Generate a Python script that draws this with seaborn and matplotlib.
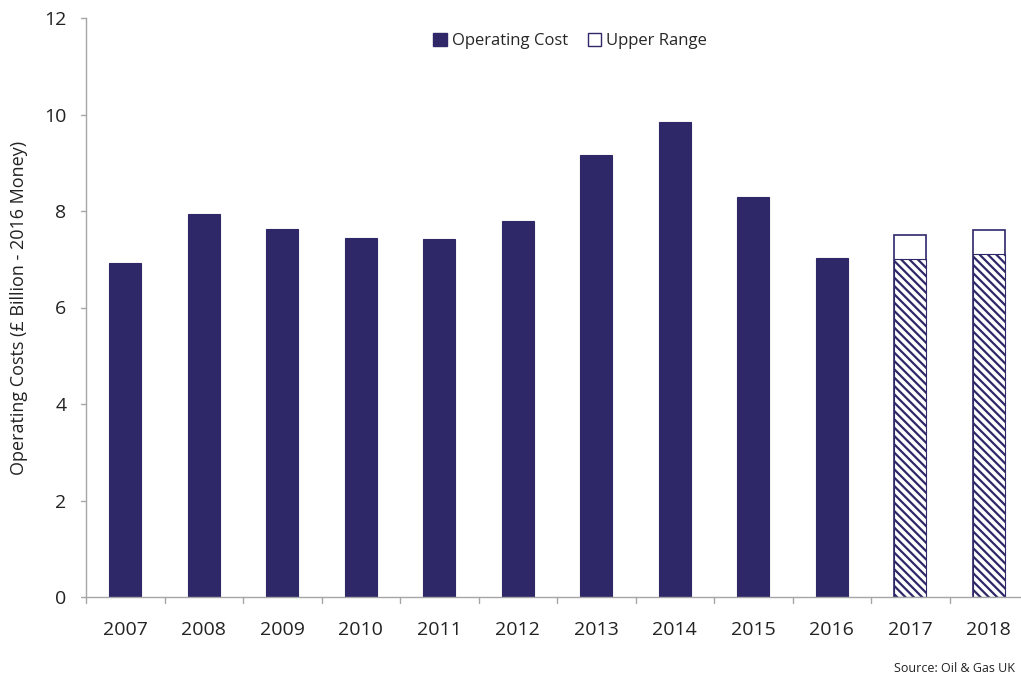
import matplotlib
matplotlib.use("Agg")
import matplotlib.pyplot as plt
from matplotlib.patches import Patch
import pandas as pd
import seaborn as sns

years = ["2007", "2008", "2009", "2010", "2011", "2012", "2013", "2014", "2015", "2016", "2017", "2018"]
operating_cost = [6.92, 7.94, 7.63, 7.45, 7.43, 7.79, 9.16, 9.84, 8.29, 7.03, 7.00, 7.10]
upper_range = [None, None, None, None, None, None, None, None, None, None, 7.51, 7.61]
forecast_years = ["2017", "2018"]

navy = "#2E2868"
sns.set_theme(style="white")
plt.rcParams['font.family'] = ['Open Sans', 'DejaVu Sans']
plt.rcParams['hatch.color'] = navy
plt.rcParams['hatch.linewidth'] = 1.6

df = pd.DataFrame({"Year": years, "Operating Cost": operating_cost, "Upper Range": upper_range})

fig = plt.figure(figsize=(10.21, 6.77), dpi=100)
ax = fig.add_axes([86 / 1021, 1 - 597 / 677, (1028 - 86) / 1021, (597 - 18) / 677])

# upper range drawn as full-height outline bars, operating cost drawn on top
sns.barplot(data=df, x="Year", y="Upper Range", order=years, color="white",
            edgecolor=navy, linewidth=1.2, width=0.41, saturation=1, ax=ax)
n_upper = len(ax.patches)
sns.barplot(data=df, x="Year", y="Operating Cost", order=years, color=navy,
            edgecolor=navy, linewidth=0.8, width=0.41, saturation=1, ax=ax)

cost_bars = ax.patches[n_upper:]
for yr, bar in zip(years, cost_bars):
    if yr in forecast_years:
        bar.set_facecolor("white")
        bar.set_hatch("\\\\\\\\")
        bar.set_edgecolor(navy)

ax.set_ylim(0, 12)
ax.set_yticks([0, 2, 4, 6, 8, 10, 12])
ax.set_xlim(-0.5, len(years) - 0.5)
ax.set_xticks(range(len(years)))
ax.set_xticklabels(years)
ax.set_xlabel("")
ax.set_ylabel("Operating Costs (£ Billion - 2016 Money)", fontsize=13, color="#222222", labelpad=12)
ax.tick_params(axis="x", labelsize=14, colors="#222222", length=0, pad=17)
ax.tick_params(axis="y", labelsize=14, colors="#222222", length=0, pad=14)

for side in ["top", "right"]:
    ax.spines[side].set_visible(False)
for side in ["left", "bottom"]:
    ax.spines[side].set_color("#A6A6A6")
    ax.spines[side].set_linewidth(1.0)

# small tick marks like the original: y ticks left, x ticks at category boundaries
for y in range(0, 13, 2):
    ax.plot([-0.5 - 0.07, -0.5], [y, y], color="#A6A6A6", lw=1.0, clip_on=False)
for i in range(len(years) + 1):
    ax.plot([i - 0.5, i - 0.5], [0, -0.12], color="#A6A6A6", lw=1.0, clip_on=False)

handles = [Patch(facecolor=navy, edgecolor=navy, label="Operating Cost"),
           Patch(facecolor="white", edgecolor=navy, label="Upper Range")]
fig.legend(handles=handles, loc="center", bbox_to_anchor=(570 / 1021, 1 - 41 / 677), ncol=2,
           frameon=False, fontsize=12, handlelength=0.8, handleheight=0.8,
           handletextpad=0.3, columnspacing=1.2)

fig.text(1015 / 1021, 1 - 669 / 677, "Source: Oil & Gas UK", fontsize=9, color="#222222",
         va="center", ha="right")

fig.savefig("out.png", dpi=100)
